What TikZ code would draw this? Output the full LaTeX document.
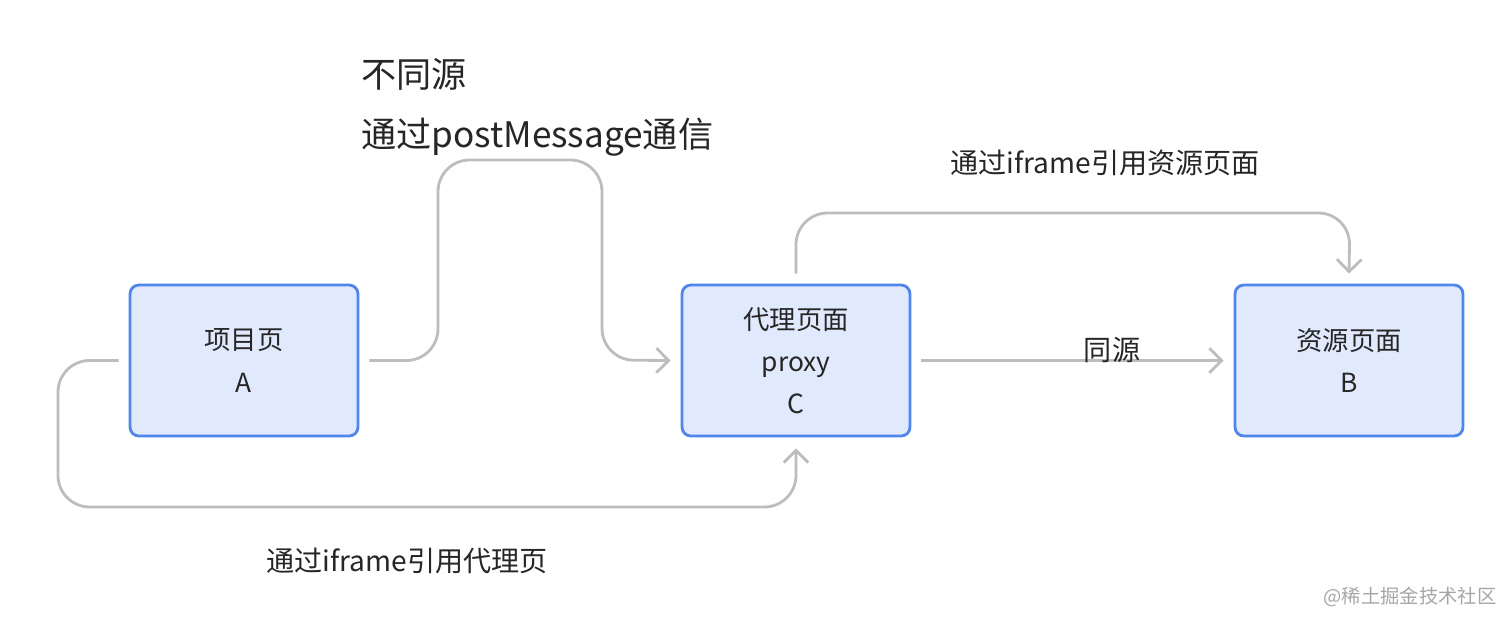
\documentclass[tikz,border=0pt]{standalone}
\usepackage{fontspec}
\setmainfont{Noto Sans CJK SC}
\usetikzlibrary{arrows.meta,calc}
\definecolor{boxfill}{HTML}{E1EAFD}
\definecolor{boxline}{HTML}{4F86EC}
\definecolor{conn}{HTML}{BDBDBD}
\definecolor{txt}{HTML}{262626}
\tikzset{
  pagebox/.style={draw=boxline,fill=boxfill,line width=1.6pt,rounded corners=5pt,minimum width=4.56cm,minimum height=3.02cm,align=center,font=\fontsize{15}{24}\selectfont,text=txt},
  conn/.style={draw=conn,line width=1.6pt,rounded corners=18pt,-{Straight Barb[length=7pt,width=14pt,line width=1.6pt]}},
  lab/.style={text=txt,font=\fontsize{16}{20}\selectfont}
}
\begin{document}
\begin{tikzpicture}[x=0.02cm,y=-0.02cm]
\useasboundingbox (0,0) rectangle (1512,626);
\node[pagebox] (A) at (244,360.5) {项目页\\A};
\node[pagebox] (C) at (796,360.5) {代理页面\\proxy\\C};
\node[pagebox] (B) at (1349,360.5) {资源页面\\B};
\draw[conn] ($(A.east)+(10,0)$) -| (438,160) -| (602,360) -- ($(C.west)+(-10,0)$);
\draw[conn] ($(A.west)+(-10,0)$) -| (58,507) -| ($(C.south)+(0,11)$);
\draw[conn] ($(C.north)+(0,-10)$) |- (1350,213) -- ($(B.north)+(0,-10)$);
\draw[conn,rounded corners=0pt] ($(C.east)+(10,0)$) -- ($(B.west)+(-10,0)$);
\node[lab] (same) at (1112,350) {同源};
\node[text=txt,font=\fontsize{20}{34}\selectfont,align=left,anchor=north west] (title) at (355,52) {不同源\\通过postMessage通信};
\node[lab] (l1) at (1105,163) {通过iframe引用资源页面};
\node[lab] (l2) at (407,561) {通过iframe引用代理页};
\node[text=gray!70,font=\fontsize{11}{13}\selectfont] (wm) at (1410,597) {@稀土掘金技术社区};
\end{tikzpicture}
\end{document}
